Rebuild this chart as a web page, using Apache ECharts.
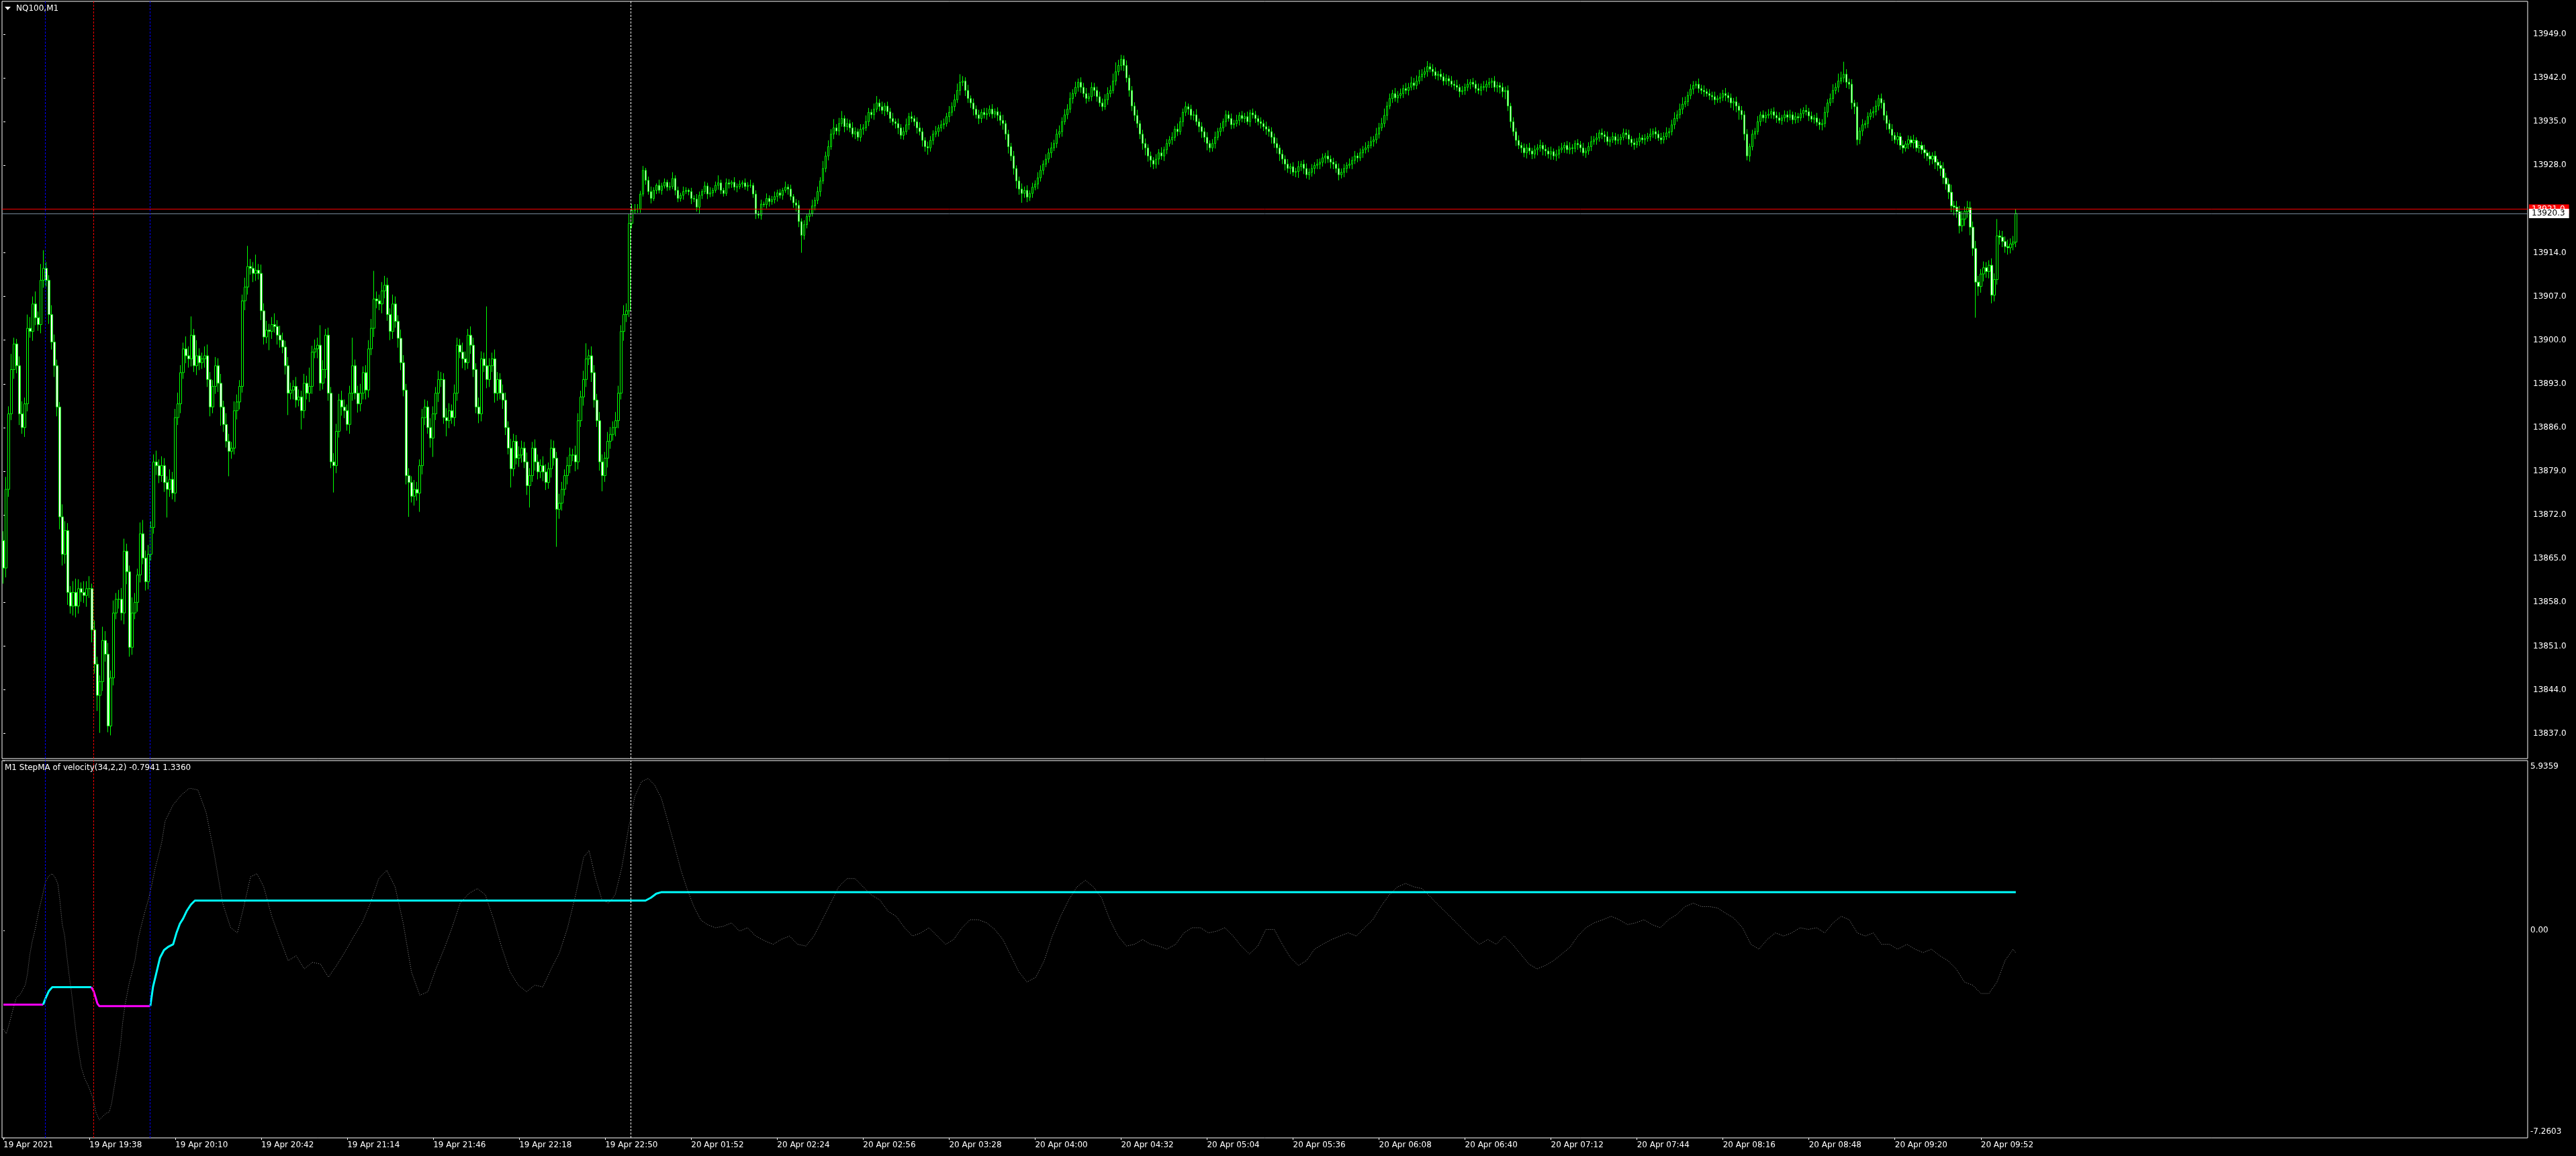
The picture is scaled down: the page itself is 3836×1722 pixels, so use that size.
<!DOCTYPE html>
<html><head><meta charset="utf-8">
<script src="https://cdn.jsdelivr.net/npm/echarts@6/dist/echarts.min.js"></script>
<style>html,body{margin:0;padding:0;background:#000;overflow:hidden}#c{width:3836px;height:1722px}</style>
</head><body><div id="c"></div>
<script>
const symbolTitle = 'NQ100,M1';
const indicatorTitle = 'M1 StepMA of velocity(34,2,2) -0.7941 1.3360';
const tickLabels = ['19 Apr 2021','19 Apr 19:38','19 Apr 20:10','19 Apr 20:42','19 Apr 21:14','19 Apr 21:46','19 Apr 22:18','19 Apr 22:50','20 Apr 01:52','20 Apr 02:24','20 Apr 02:56','20 Apr 03:28','20 Apr 04:00','20 Apr 04:32','20 Apr 05:04','20 Apr 05:36','20 Apr 06:08','20 Apr 06:40','20 Apr 07:12','20 Apr 07:44','20 Apr 08:16','20 Apr 08:48','20 Apr 09:20','20 Apr 09:52'];
const barsPerLabel = 32;
const slotCount = 940;
const priceTicks = [13837,13844,13851,13858,13865,13872,13879,13886,13893,13900,13907,13914,13928,13935,13942,13949];
const priceMin = 13832.98, priceMax = 13954.27;
const indMin = -7.2603, indMax = 5.9359;
const askPrice = 13921.0, bidPrice = 13920.3;
const firstOpen = 13867.9;
const closes = [
13863.5,13876.1,13888.2,13895.3,13899.4,13895.9,13888.2,13886.0,13889.8,13901.9,
13901.4,13905.8,13903.6,13902.5,13909.6,13911.5,13909.6,13904.1,13899.7,13895.9,
13889.3,13871.7,13865.7,13869.5,13859.6,13857.4,13859.6,13857.4,13860.2,13859.6,
13859.1,13860.2,13860.2,13853.6,13848.1,13843.1,13845.3,13851.9,13849.7,13838.2,
13845.9,13856.3,13858.5,13858.5,13856.3,13866.2,13862.9,13850.8,13856.3,13858.0,
13862.4,13869.0,13865.1,13861.3,13865.7,13870.0,13880.5,13879.9,13878.3,13879.9,
13877.2,13876.1,13877.7,13875.5,13887.6,13889.8,13894.8,13898.6,13897.5,13897.0,
13900.8,13895.9,13897.5,13896.4,13897.0,13897.5,13893.7,13889.3,13892.6,13895.9,
13893.1,13889.3,13886.5,13883.8,13882.2,13882.7,13888.7,13890.1,13892.6,13906.3,
13908.5,13911.8,13911.5,13910.7,13911.2,13910.7,13904.7,13900.5,13901.6,13901.4,
13902.5,13902.2,13900.8,13900.0,13898.9,13895.9,13891.5,13892.0,13892.6,13890.4,
13890.9,13888.7,13893.1,13891.5,13892.6,13898.1,13898.6,13899.2,13893.1,13895.3,
13900.8,13891.5,13880.5,13879.9,13885.4,13890.4,13889.3,13888.7,13886.5,13891.5,
13895.9,13891.5,13889.8,13891.5,13894.8,13892.0,13898.6,13901.9,13906.6,13906.3,
13905.8,13907.9,13908.8,13904.1,13901.4,13905.8,13903.0,13900.3,13896.4,13892.0,
13878.3,13877.2,13875.0,13876.1,13875.5,13879.9,13887.6,13889.3,13886.0,13884.3,
13888.2,13891.5,13893.7,13893.7,13887.6,13887.1,13888.7,13887.6,13891.5,13899.2,
13898.1,13897.0,13896.4,13900.8,13899.2,13895.3,13889.3,13888.2,13897.0,13895.9,
13893.7,13895.9,13897.0,13891.5,13893.7,13891.5,13890.4,13886.0,13882.7,13879.4,
13883.8,13881.1,13881.6,13882.7,13880.5,13876.7,13878.3,13882.7,13880.5,13878.9,
13879.9,13878.9,13877.2,13879.4,13882.7,13881.1,13872.9,13873.9,13876.1,13878.3,
13879.9,13881.6,13881.6,13880.5,13887.1,13890.9,13893.7,13897.0,13897.5,13894.8,
13890.4,13887.1,13880.5,13878.3,13881.1,13883.8,13884.9,13886.0,13887.1,13891.5,
13901.4,13904.1,13904.7,13918.7,13920.8,13921.0,13921.0,
13923.4,13927.2,13925.6,13923.8,13922.7,13924.0,13924.8,13924.0,13924.7,13925.3,
13924.5,13924.6,13925.9,13924.0,13922.7,13923.2,13923.8,13924.0,13923.8,13922.7,
13922.6,13921.3,13923.2,13923.8,13924.7,13923.4,13923.6,13924.0,13924.8,13925.2,
13924.0,13923.5,13925.2,13925.0,13925.3,13924.5,13924.6,13925.0,13925.2,13924.6,
13924.8,13924.8,13923.4,13920.2,13920.0,13921.8,13921.7,13922.7,13922.2,13922.5,
13923.0,13923.6,13923.2,13924.0,13924.5,13924.2,13923.0,13922.0,13921.6,13919.0,
13916.8,13918.5,13919.8,13920.3,13921.5,13922.4,13923.8,13925.5,13927.5,13929.5,
13931.0,13933.0,13934.0,13933.5,13934.7,13935.5,13934.2,13934.7,13934.0,13933.0,
13933.4,13932.5,13933.8,13934.0,13935.0,13936.5,13936.1,13937.0,13938.0,13937.4,
13936.8,13937.5,13936.6,13935.5,13935.0,13934.7,13934.0,13932.8,13933.4,13934.5,
13935.8,13935.5,13935.0,13934.0,13933.4,13932.0,13931.0,13930.8,13932.0,13933.0,
13933.4,13934.0,13934.5,13934.7,13935.8,13936.5,13937.4,13938.5,13940.0,13941.3,
13941.5,13940.0,13938.7,13938.0,13937.0,13936.1,13935.5,13936.5,13936.1,13936.3,
13937.0,13936.2,13936.6,13936.0,13935.2,13934.7,13933.0,13931.0,13929.5,13927.5,
13925.5,13924.2,13923.5,13924.0,13922.9,13923.5,13924.5,13925.0,13926.0,13927.2,
13928.2,13929.0,13930.0,13930.8,13931.5,13933.0,13933.4,13935.0,13936.1,13937.0,
13938.7,13939.5,13940.5,13941.3,13940.5,13939.5,13938.7,13939.0,13940.5,13940.0,
13939.0,13938.0,13937.4,13938.5,13939.5,13940.0,13941.5,13943.0,13944.0,13945.0,
13944.0,13942.0,13940.0,13937.5,13936.0,13934.7,13933.0,13931.5,13930.8,13929.5,
13928.8,13928.2,13929.0,13930.0,13929.5,13930.5,13931.5,13932.1,13932.5,13933.8,
13933.4,13935.0,13936.5,13937.4,13937.0,13936.0,13936.1,13935.0,13934.2,13933.4,
13932.5,13931.5,13930.8,13931.5,13932.5,13933.4,13934.0,13935.0,13936.1,13935.5,
13934.5,13934.7,13935.2,13936.0,13935.5,13935.8,13935.0,13936.4,13936.1,13935.5,
13935.0,13934.7,13934.2,13933.8,13933.4,13932.5,13931.5,13930.8,13929.8,13929.0,
13928.2,13927.5,13927.8,13926.9,13927.0,13927.8,13928.2,13927.5,13926.5,13926.9,
13927.5,13928.0,13928.2,13928.5,13929.2,13929.5,13929.0,13928.5,13928.2,13927.5,
13926.5,13926.9,13927.5,13928.0,13928.2,13928.8,13929.5,13929.2,13930.0,13930.5,
13930.8,13931.2,13931.8,13932.1,13933.0,13934.0,13934.7,13936.0,13937.5,13938.7,
13939.5,13938.8,13939.2,13939.5,13940.3,13940.0,13940.5,13941.2,13940.8,13941.5,
13942.2,13942.6,13943.0,13943.8,13943.4,13943.0,13942.4,13942.6,13942.2,13941.5,
13941.9,13941.5,13941.0,13940.8,13940.5,13939.8,13940.0,13940.5,13941.0,13941.3,
13941.0,13940.3,13940.0,13940.6,13940.5,13941.0,13941.3,13941.5,13940.5,13940.8,
13940.5,13939.8,13940.0,13937.5,13935.0,13933.4,13932.0,13931.2,13930.8,13930.0,
13930.8,13930.3,13929.8,13930.5,13930.8,13931.2,13930.6,13930.3,13929.8,13930.2,
13929.5,13929.8,13930.5,13930.8,13931.2,13930.5,13930.8,13930.7,13931.5,13931.3,
13930.8,13930.0,13930.3,13931.0,13931.8,13932.1,13932.4,13933.2,13932.9,13932.6,
13931.8,13932.1,13932.6,13932.0,13932.1,13932.5,13933.2,13932.9,13932.2,13931.6,
13931.3,13931.8,13932.4,13932.1,13932.3,13932.6,13933.0,13933.4,13933.0,13932.4,
13932.1,13932.6,13933.2,13933.4,13934.5,13935.5,13936.1,13937.0,13937.8,13938.2,
13939.2,13940.2,13940.8,13941.0,13940.3,13940.0,13939.8,13939.5,13939.2,13939.0,
13938.5,13938.7,13938.9,13939.5,13939.2,13938.8,13938.0,13938.2,13937.5,13936.8,
13936.1,
13933.0,13929.5,13931.0,13933.0,13933.4,13935.0,13936.1,13935.6,13936.0,13936.2,
13936.6,13936.0,13935.6,13935.2,13935.6,13936.1,13935.7,13936.1,13935.3,13935.8,
13935.6,13936.3,13936.8,13936.6,13935.9,13935.4,13935.6,13934.9,13934.5,13934.7,
13936.5,13938.0,13938.7,13940.0,13940.5,13941.5,13942.0,13942.6,13941.3,13941.0,
13938.0,13937.4,13932.1,13933.5,13934.5,13934.7,13935.8,13936.4,13936.6,13937.5,
13938.7,13938.0,13936.0,13934.7,13933.8,13932.8,13932.1,13932.6,13931.2,13930.8,
13931.4,13932.1,13931.6,13932.0,13930.8,13931.2,
13930.5,13930.0,13929.5,13929.0,13929.5,13928.5,13928.0,13927.5,13926.0,13925.0,
13923.7,13921.5,13921.3,13920.6,13918.3,13919.4,13920.6,13921.2,13918.1,13914.7,
13909.3,13908.6,13910.6,13911.6,13911.0,13912.0,13907.2,13909.7,13916.7,13916.5,
13915.8,13915.0,13914.8,13915.4,13915.7,13920.3
];
const upWick = [
1.5,2.0,1.2,2.5,1.0,0.8,1.5,2.0,1.0,2.2,
1.8,1.2,2.0,1.0,2.6,2.9,1.0,0.8,1.5,1.2,
1.0,0.8,2.0,1.5,1.2,1.0,1.8,2.2,1.5,1.0,
1.8,1.2,2.0,0.8,1.5,1.2,1.0,2.2,1.5,1.8,
1.2,2.0,1.0,1.5,1.8,2.0,1.2,1.0,2.5,1.5,
1.0,1.8,2.2,1.2,1.5,1.0,1.2,1.8,1.0,1.5,
1.2,1.0,1.6,1.2,1.4,1.8,1.2,1.0,2.0,1.5,
3.0,1.0,2.5,1.2,1.0,1.5,1.8,1.2,1.0,1.4,
1.2,1.5,1.0,1.8,1.2,1.0,1.5,1.2,1.0,1.0,
1.5,3.3,1.2,1.0,2.5,1.0,1.4,1.2,1.5,1.0,
1.2,1.8,1.0,1.5,1.2,1.0,1.4,1.2,1.0,1.5,
1.2,1.0,1.5,1.2,3.0,1.0,1.5,1.2,3.2,1.5,
1.0,1.2,1.0,1.4,1.2,1.0,1.5,1.2,1.0,1.2,
4.5,1.0,1.2,1.5,1.0,1.2,1.4,1.5,4.5,1.2,
1.0,1.4,1.5,1.2,1.0,1.5,1.2,1.0,1.4,1.2,
1.0,1.2,1.0,1.5,1.2,1.0,1.4,1.2,1.0,1.5,
1.2,1.0,1.4,1.2,1.0,1.5,1.2,1.0,1.4,1.2,
1.0,1.5,1.2,1.0,1.4,1.2,1.0,1.5,1.2,1.0,
9.5,1.2,1.0,1.5,1.2,1.0,1.4,1.2,1.0,1.5,
1.2,1.0,1.4,1.2,1.0,1.5,1.2,1.0,1.4,1.2,
1.0,1.5,1.2,1.0,1.4,1.2,1.0,1.5,1.2,1.0,
1.4,1.2,1.0,1.5,1.2,1.0,1.4,2.5,1.0,1.5,
1.2,1.0,1.4,1.2,1.0,1.5,1.2,1.0,1.4,1.2,
1.0,1.5,1.2,1.5,1.0,0.8,0.8,
0.5,0.7,0.4,0.6,0.8,0.5,0.3,0.9,0.5,0.6,
0.4,0.7,1.0,0.5,0.6,0.4,0.8,0.5,0.3,0.6,
0.5,0.8,0.6,0.4,0.7,0.5,0.9,0.4,0.6,1.2,
0.5,0.4,0.7,0.6,0.3,0.8,0.5,0.6,0.4,0.7,
0.5,0.9,0.4,0.6,0.5,0.7,0.4,0.8,0.5,0.6,
0.8,0.5,0.6,0.4,0.9,0.5,0.7,0.4,0.6,0.8,
0.5,0.7,0.4,0.6,1.0,0.5,0.8,0.6,1.2,0.7,
1.0,0.8,1.4,0.6,0.9,1.2,0.5,0.8,0.6,0.9,
0.7,0.5,0.8,0.6,1.0,0.7,0.5,0.9,1.1,0.6,
0.8,0.5,0.7,0.6,0.9,0.5,0.8,0.6,0.7,1.0,
0.6,0.8,0.5,0.7,0.9,0.6,0.5,0.8,0.7,0.6,
0.9,0.5,0.7,0.8,0.6,1.0,0.7,0.9,1.1,1.3,
0.8,0.6,0.9,0.5,0.7,0.6,0.8,0.5,0.7,0.9,
0.6,0.8,0.5,0.7,0.6,0.9,0.5,0.7,0.6,0.8,
0.5,0.7,0.9,0.6,0.8,0.5,0.7,0.6,0.9,0.8,
0.6,0.8,0.7,0.9,0.6,0.8,1.0,0.7,0.9,0.8,
1.0,0.7,0.9,0.6,0.8,0.7,0.9,0.6,0.8,0.7,
0.6,0.8,0.7,0.9,1.0,0.8,1.2,1.5,0.9,0.7,
0.6,0.8,0.5,0.7,0.6,0.9,0.5,0.7,0.8,0.6,
0.7,0.5,0.8,0.6,0.9,0.5,0.7,0.6,0.8,0.5,
0.9,0.7,0.6,0.8,0.5,0.7,0.6,0.9,0.5,0.7,
0.6,0.8,0.5,0.7,0.9,0.6,0.8,0.5,0.7,0.6,
0.8,0.6,0.9,0.5,0.7,0.6,0.8,0.5,0.7,0.6,
0.5,0.7,0.6,0.8,0.5,0.7,0.6,0.9,0.5,0.7,
0.6,0.8,0.5,0.7,0.6,0.9,0.5,0.7,0.8,0.6,
0.7,0.5,0.8,0.6,0.7,0.5,0.9,0.6,0.7,0.5,
0.8,0.6,0.7,0.5,0.9,0.6,0.8,0.5,0.7,0.6,
0.9,0.7,0.8,0.6,1.0,0.8,0.9,1.1,0.7,0.8,
0.6,0.9,0.7,0.8,0.6,0.9,0.7,1.0,0.8,0.9,
1.1,0.8,0.7,0.9,0.6,0.8,0.7,0.5,0.8,0.6,
0.7,0.5,0.8,0.6,0.9,0.5,0.7,0.6,0.8,0.5,
0.7,0.6,0.8,0.5,0.9,0.6,0.7,0.5,0.8,0.6,
0.5,0.7,0.6,0.8,0.5,0.7,0.6,0.8,0.5,0.7,
0.6,0.8,0.5,0.7,0.6,0.9,0.5,0.7,0.6,0.8,
0.5,0.7,0.6,0.8,0.5,0.7,0.9,0.6,0.5,0.7,
0.6,0.8,0.5,0.7,0.9,0.6,0.8,0.5,0.7,0.6,
0.8,0.5,0.7,0.6,0.9,0.5,0.7,0.6,0.8,0.5,
0.7,0.6,0.8,0.5,0.7,0.6,0.9,0.5,0.7,0.6,
0.8,0.7,0.9,0.6,0.8,1.0,0.7,0.9,1.1,0.8,
0.6,0.8,0.7,0.5,0.9,0.6,0.8,0.5,0.7,0.6,
0.8,0.5,0.7,0.6,0.9,0.5,0.7,0.6,0.8,0.5,
0.7,0.6,0.8,0.5,0.7,0.6,0.9,0.5,0.7,0.6,
0.8,0.5,0.7,0.6,0.9,0.5,0.7,0.6,0.8,0.5,
0.7,0.6,0.8,0.5,0.9,0.6,0.7,0.5,0.8,0.6,
0.7,0.9,0.6,0.8,1.0,0.7,1.2,1.0,2.0,0.8,
0.6,0.8,0.5,0.7,0.6,0.9,0.5,0.7,0.6,0.8,
0.9,0.6,0.8,0.5,0.7,0.6,0.8,0.5,0.7,0.6,
0.8,0.5,0.7,0.6,0.9,0.5,0.7,0.6,0.8,0.5,
0.7,0.6,0.8,0.5,0.7,1.0,0.8,0.9,1.2,0.8,
1.0,0.9,1.3,0.8,1.1,1.0,0.9,1.2,1.0,0.8,
1.0,0.9,0.8,1.1,1.0,2.7,0.9,1.0,0.8,1.1,
0.9,1.0,0.7
];
const downWick = [
2.5,1.5,1.2,1.0,1.5,1.2,1.8,1.0,1.5,1.2,
1.0,1.5,1.2,1.0,1.4,1.2,1.0,1.5,1.2,1.8,
1.5,2.0,1.8,1.5,2.0,1.2,1.5,1.8,1.2,1.5,
1.2,1.8,1.5,2.0,1.5,2.5,6.0,1.5,1.2,1.0,
1.5,1.2,1.0,1.5,1.2,1.8,2.0,1.5,1.2,1.0,
1.5,1.2,1.0,1.4,1.2,1.0,1.0,1.5,1.2,1.0,
1.5,4.5,1.2,1.0,1.4,1.2,1.5,1.0,1.2,1.4,
1.2,1.0,1.5,1.2,1.0,1.4,1.2,1.5,1.0,1.2,
1.4,3.0,1.2,1.0,4.0,1.2,1.0,1.4,1.2,1.0,
1.5,1.2,1.0,1.4,1.2,1.0,1.5,1.2,1.0,3.0,
1.2,1.0,1.5,1.2,1.0,1.4,3.5,1.0,1.5,1.2,
1.0,3.0,1.2,1.0,1.4,1.2,1.0,1.5,1.2,1.0,
1.4,1.2,1.0,4.3,1.2,1.0,1.4,1.2,1.0,1.5,
1.2,1.0,1.4,1.2,1.0,1.5,1.2,1.0,1.4,1.2,
1.0,1.5,1.2,1.0,1.4,1.2,1.0,1.5,1.2,1.0,
1.4,5.5,1.0,1.5,1.2,3.0,1.4,1.2,1.0,1.5,
3.0,1.0,1.4,1.2,1.0,2.5,1.2,1.0,1.4,1.2,
1.0,1.5,1.2,1.0,1.4,1.2,1.0,1.5,1.2,1.0,
1.4,1.2,1.0,1.5,1.2,1.0,1.4,1.2,1.0,3.0,
1.2,1.0,1.4,1.2,1.0,1.5,3.5,1.0,1.4,1.2,
1.0,1.5,1.2,1.0,1.4,1.2,6.0,1.5,1.2,1.0,
1.4,1.2,1.0,1.5,1.2,1.0,1.4,1.2,1.0,1.5,
1.2,1.0,1.4,2.5,1.0,1.5,1.2,1.0,1.4,1.2,
1.0,1.5,1.2,1.0,0.8,0.6,0.6,
0.6,0.4,0.7,0.5,0.8,0.4,0.6,0.5,0.7,0.4,
0.6,0.5,0.4,0.8,0.6,0.5,0.7,0.4,0.6,0.9,
0.5,0.7,1.0,0.6,0.4,0.8,0.5,0.6,0.4,0.7,
0.6,0.5,0.4,0.7,0.6,0.5,0.8,0.4,0.6,0.5,
0.7,0.4,0.6,0.8,0.5,0.7,0.4,0.6,0.8,0.5,
0.6,0.8,0.5,0.7,0.4,0.9,0.6,0.8,1.0,0.9,
2.8,0.7,0.6,0.8,0.5,0.7,0.6,0.8,0.5,0.6,
0.7,0.5,0.8,0.6,0.7,0.5,0.9,0.6,0.7,0.5,
0.8,0.6,0.7,0.9,0.5,0.7,0.6,0.8,0.5,0.7,
0.6,0.9,0.5,0.7,0.6,0.8,1.0,0.6,0.7,0.5,
0.8,0.6,0.7,0.9,0.6,1.0,0.8,1.1,0.6,0.7,
0.5,0.8,0.6,0.7,0.5,0.9,0.6,0.7,0.5,0.8,
0.6,0.9,0.7,0.8,1.0,0.6,0.9,0.7,0.6,0.8,
0.5,0.7,0.6,0.9,0.8,1.0,0.9,1.1,0.8,1.0,
1.2,0.9,1.5,0.7,0.8,0.6,0.7,0.5,0.8,0.6,
0.7,0.5,0.6,0.8,0.5,0.7,0.6,0.8,0.5,0.7,
0.6,0.8,0.5,0.7,0.9,0.6,0.8,0.5,0.7,0.9,
0.8,0.6,0.7,0.5,0.8,0.6,0.5,0.7,0.6,0.8,
0.9,0.7,1.0,0.8,0.9,0.7,0.8,1.0,1.2,0.9,
1.1,0.8,0.7,0.9,0.6,0.8,0.7,0.5,0.8,0.6,
0.7,0.5,0.8,0.6,0.9,0.7,0.8,0.6,0.9,1.0,
0.8,1.1,0.7,0.6,0.8,0.5,0.7,0.6,0.8,0.5,
0.7,0.6,0.5,0.8,0.6,0.7,0.5,0.8,0.6,0.7,
0.6,0.8,0.7,0.9,0.8,1.0,0.7,0.9,1.1,0.8,
1.0,0.7,0.9,0.6,0.8,1.0,0.7,0.9,0.6,0.8,
0.7,0.9,0.6,0.8,0.7,0.9,0.6,1.0,0.8,0.7,
0.9,0.6,0.8,0.7,0.5,0.8,0.6,0.7,0.5,0.8,
0.6,0.7,0.5,0.8,0.6,0.7,0.5,0.6,0.8,0.5,
0.7,0.6,0.8,0.5,0.7,0.6,0.8,0.5,0.7,0.6,
0.5,0.7,0.6,0.8,0.5,0.7,0.6,0.8,0.5,0.7,
0.6,0.8,0.5,0.7,0.6,0.9,0.5,0.7,0.6,0.8,
0.5,0.7,0.6,0.8,0.5,0.7,0.6,0.9,0.7,0.8,
1.0,0.9,1.2,0.8,1.0,0.7,0.9,0.6,0.8,0.7,
0.9,0.6,0.8,0.7,0.9,0.6,1.0,0.8,0.7,0.9,
0.6,0.8,0.7,0.5,0.8,0.6,0.7,0.9,0.6,0.8,
0.7,0.5,0.8,0.6,0.7,0.5,0.8,0.6,0.7,0.9,
0.6,0.8,0.5,0.7,0.6,0.8,0.5,0.7,0.9,0.6,
0.8,0.5,0.7,0.6,0.8,0.5,0.7,0.6,0.8,0.5,
0.7,0.6,0.5,0.8,0.6,0.7,0.5,0.6,0.8,0.5,
0.7,0.6,0.8,0.5,0.7,0.6,0.8,0.5,0.7,0.6,
0.8,0.5,0.7,0.6,0.9,0.7,0.8,1.2,1.0,1.5,
0.8,1.0,0.7,0.9,0.6,0.8,0.5,0.7,0.6,0.8,
0.5,0.7,0.6,0.8,0.5,0.7,0.6,0.8,0.5,0.7,
0.6,0.8,0.5,0.7,0.6,0.8,0.5,0.7,0.6,0.8,
0.9,0.6,0.8,0.5,0.7,0.6,0.8,0.5,0.7,0.9,
0.8,1.0,1.2,0.9,0.7,0.8,0.6,0.7,0.5,0.8,
0.6,0.7,0.9,0.8,1.0,0.7,0.9,0.6,0.8,0.7,
0.9,0.6,0.8,0.7,0.9,0.6,0.8,0.7,0.9,0.8,
1.0,0.8,1.1,0.9,1.2,1.0,0.9,1.1,1.0,1.3,
1.0,1.2,0.9,1.1,1.0,1.3,1.2,5.7,1.5,1.0,
1.2,1.0,1.1,1.3,1.0,0.8,1.2,0.9,1.0,1.1,
0.9,1.0,0.8
];
const velocity = [[0,-3.46],[1.1,-3.62],[2.3,-3.23],[3.6,-2.76],[4.8,-2.37],[6.5,-2.21],[8.2,-1.90],[9,-1.51],[9.8,-0.88],[10.7,-0.41],[11.9,0.06],[13.2,0.69],[14.4,1.15],[15.7,1.70],[16.9,1.90],[18.2,1.98],[19.4,1.82],[20.3,1.62],[21.1,1.00],[21.9,0.22],[22.8,-0.18],[23.6,-0.88],[24.4,-1.51],[25.3,-2.13],[26.1,-2.76],[26.9,-3.46],[27.8,-4.09],[29,-4.79],[30.3,-5.19],[31.5,-5.42],[32.8,-5.73],[33.6,-5.97],[34.4,-6.36],[35.7,-6.63],[36.9,-6.52],[38.2,-6.40],[39.4,-6.36],[40.3,-6.05],[41.1,-5.58],[41.9,-5.11],[42.8,-4.56],[43.6,-4.01],[44.4,-3.23],[45.3,-2.60],[46.1,-2.21],[46.9,-1.82],[47.8,-1.51],[49,-1.04],[50.3,-0.25],[51.5,0.22],[52.8,0.69],[54,1.08],[55.3,1.62],[56.5,2.17],[57.8,2.64],[59,3.11],[60.2,3.82],[63.2,4.39],[66.3,4.74],[69.3,4.97],[72.4,4.91],[75.5,4.11],[78.5,2.67],[81.6,0.95],[84.6,0.09],[87.1,-0.09],[89.5,0.83],[92,1.87],[94.4,1.98],[96.9,1.52],[99.9,0.49],[103,-0.32],[106,-1.06],[109,-0.89],[112,-1.35],[115,-1.12],[118,-1.18],[121,-1.64],[124,-1.23],[127,-0.78],[130.5,-0.20],[133.5,0.26],[136.6,0.95],[139.7,1.81],[142.7,2.10],[145.8,1.52],[148.8,0.26],[151.9,-1.46],[155,-2.27],[158,-2.15],[161,-1.35],[164,-0.66],[167,0.09],[170,0.95],[173.3,1.29],[176.4,1.46],[179.4,1.24],[182.5,0.37],[185.5,-0.60],[188.6,-1.46],[191.7,-1.92],[194.7,-2.15],[197.8,-1.92],[200.8,-1.98],[203.9,-1.35],[207,-0.78],[210,0.09],[213,1.24],[216,2.56],[218,2.79],[220.4,1.81],[222.8,1.06],[225.3,0.95],[227.7,1.24],[230.2,2.21],[232.6,3.53],[235,4.68],[237.5,5.20],[240,5.31],[242.4,5.08],[244.9,4.62],[247.3,3.82],[249.8,2.96],[252.2,2.10],[254.6,1.41],[257,0.83],[259.5,0.37],[262,0.20],[265,0.09],[268,0.14],[271,0.26],[274,-0.03],[277,0.09],[280,-0.20],[283.4,-0.37],[286.5,-0.49],[289.5,-0.32],[292.6,-0.20],[295.6,-0.49],[298.7,-0.55],[301.7,-0.20],[304.8,0.37],[307.9,0.95],[310.9,1.52],[314,1.81],[317,1.81],[320,1.52],[323,1.24],[326.2,1.06],[329.3,0.66],[332.3,0.49],[335.4,0.09],[338.4,-0.20],[341.5,-0.09],[344.5,0.09],[347.6,-0.20],[350.7,-0.49],[353.7,-0.32],[356.8,0.09],[359.8,0.37],[362.9,0.37],[366,0.26],[369,0.03],[372,-0.32],[375,-0.89],[378,-1.46],[381,-1.81],[384.3,-1.64],[387.4,-1.06],[390.4,-0.20],[393.5,0.49],[396.5,1.06],[399.6,1.52],[402.7,1.75],[405.7,1.52],[408.8,1.12],[411.8,0.37],[414.9,-0.20],[418,-0.55],[421,-0.49],[424,-0.32],[427,-0.49],[430,-0.55],[433,-0.66],[436.3,-0.49],[439.4,-0.09],[442.4,0.09],[445.5,0.09],[448.5,-0.09],[451.6,-0.03],[454.6,0.09],[457.7,-0.20],[460.7,-0.55],[463.8,-0.83],[466.9,-0.55],[469.9,0.03],[473,0.03],[476,-0.49],[479,-0.95],[482,-1.23],[485,-1.06],[488,-0.66],[491,-0.49],[494.4,-0.32],[497.5,-0.20],[500.5,-0.09],[503.6,-0.20],[506.6,0.09],[509.7,0.37],[512.7,0.83],[515.8,1.24],[518.9,1.52],[521.9,1.64],[525,1.52],[528,1.46],[531,1.18],[534,0.89],[537.2,0.60],[540.3,0.31],[543.3,0.03],[546.4,-0.26],[549.4,-0.49],[552.5,-0.32],[555.6,-0.49],[558.6,-0.20],[561.7,-0.49],[564.7,-0.83],[567.8,-1.18],[570.8,-1.35],[573.9,-1.23],[577,-1.06],[580,-0.83],[583,-0.60],[586,-0.20],[589,0.09],[592,0.26],[595.3,0.37],[598.4,0.49],[601.4,0.37],[604.5,0.20],[607.5,0.26],[610.6,0.37],[613.6,0.20],[616.7,0.09],[619.7,0.37],[622.8,0.55],[625.9,0.83],[629,0.95],[632,0.83],[635,0.83],[638,0.78],[641,0.60],[644,0.43],[647.3,0.09],[650.4,-0.49],[653.4,-0.66],[656.5,-0.32],[659.5,-0.09],[662.6,-0.20],[665.6,-0.09],[668.7,0.09],[671.8,0.03],[674.8,0.09],[677.9,-0.09],[681,0.26],[684,0.49],[687,0.37],[690,-0.09],[693,-0.20],[696,-0.09],[699,-0.49],[702,-0.49],[705,-0.66],[708.5,-0.49],[711.5,-0.66],[714.5,-0.78],[717.6,-0.66],[720.7,-0.89],[723.7,-1.06],[726.8,-1.35],[729.9,-1.81],[733,-1.92],[736,-2.21],[739,-2.21],[742,-1.81],[745,-1.06],[748,-0.66],[749,-0.79]];
const stepDownA = [[0,-2.60],[14.8,-2.60]];
const stepUpA = [[14.8,-2.60],[15.7,-2.38],[16.9,-2.13],[18.2,-1.99],[32.75,-1.99]];
const stepDownB = [[32.75,-1.99],[33.6,-2.13],[34.4,-2.37],[35,-2.56],[35.7,-2.65],[54.7,-2.65]];
const stepUpB = [[54.7,-2.65],[55.7,-1.98],[56.9,-1.51],[58.3,-0.96],[59.8,-0.69],[61.5,-0.57],[63.2,-0.49],[64.4,-0.10],[65.7,0.23],[66.9,0.41],[68.2,0.67],[69.8,0.90],[71.3,1.04],[239,1.04],[241,1.14],[243,1.28],[245,1.336],[749,1.336]];
const signalLines = [15.5, 33.5, 54.5];
const signalColors = ['#0000ff', '#ff0000', '#0000ff'];
const separatorIdx = 233.5;

const FONT = 'DejaVu Sans';
const categories = Array.from({length: slotCount}, (_, i) => String(i));
const candles = closes.map((c, i) => {
  const o = i === 0 ? firstOpen : closes[i - 1];
  const lo = Math.min(o, c) - (downWick[i] || 0);
  const hi = Math.max(o, c) + (upWick[i] || 0);
  return [o, c, lo, hi];
});
const labelIdx = tickLabels.map((_, k) => k * barsPerLabel);
const vLines = signalLines.map((x, k) => ({xAxis: x, lineStyle: {color: signalColors[k], type: [3, 2], width: 1}}))
  .concat([{xAxis: separatorIdx, lineStyle: {color: '#ffffff', type: [3, 2], width: 1}}]);
const vMark = {symbol: ['none', 'none'], silent: true, label: {show: false}, animation: false, data: vLines};

const chart = echarts.init(document.getElementById('c'), null, {renderer: 'canvas'});
const stepSeries = (data, color) => ({type: 'line', xAxisIndex: 2, yAxisIndex: 1, data, symbol: 'none', z: 4,
  lineStyle: {color, width: 3}, silent: true});
chart.setOption({
  backgroundColor: '#000000',
  animation: false,
  title: [
    {text: symbolTitle, left: 24, top: 7, padding: 0, textStyle: {color: '#ffffff', fontSize: 12, fontWeight: 'normal', fontFamily: FONT}},
    {text: indicatorTitle, left: 7, top: 1138, padding: 0, textStyle: {color: '#ffffff', fontSize: 12, fontWeight: 'normal', fontFamily: FONT}}
  ],
  graphic: [{type: 'polygon', shape: {points: [[7, 10], [16, 10], [11.5, 15]]}, style: {fill: '#ffffff'}}],
  grid: [
    {left: 3, top: 2, width: 3761, height: 1128, show: true, borderColor: '#ffffff', borderWidth: 1, backgroundColor: 'transparent'},
    {left: 3, top: 1133, width: 3761, height: 562, show: true, borderColor: '#ffffff', borderWidth: 1, backgroundColor: 'transparent'}
  ],
  xAxis: [
    {type: 'category', gridIndex: 0, data: categories, boundaryGap: true, show: false},
    {type: 'value', gridIndex: 0, min: -0.5, max: slotCount - 0.5, show: false},
    {type: 'value', gridIndex: 1, min: -0.5, max: slotCount - 0.5, position: 'bottom', splitLine: {show: false},
      axisLine: {show: false, onZero: false},
      axisTick: {show: true, customValues: labelIdx, length: 3, lineStyle: {color: '#ffffff'}},
      axisLabel: {show: true, customValues: labelIdx, formatter: v => tickLabels[Math.round(v / barsPerLabel)] || '',
        align: 'left', color: '#ffffff', fontFamily: FONT, fontSize: 12, margin: 5}}
  ],
  yAxis: [
    {type: 'value', gridIndex: 0, position: 'right', min: priceMin, max: priceMax, scale: true,
      splitLine: {show: false}, axisLine: {show: false},
      axisTick: {show: true, customValues: priceTicks, length: 3, lineStyle: {color: '#ffffff'}},
      axisLabel: {show: true, customValues: priceTicks, formatter: v => Number(v).toFixed(1), color: '#ffffff', fontFamily: FONT, fontSize: 12, margin: 8}},
    {type: 'value', gridIndex: 1, position: 'right', min: indMin, max: indMax,
      splitLine: {show: false}, axisLine: {show: false},
      axisTick: {show: true, customValues: [indMin, 0, indMax], length: 2, lineStyle: {color: '#ffffff'}},
      axisLabel: {show: true, customValues: [indMin, 0, indMax], color: '#ffffff', fontFamily: FONT, fontSize: 12, margin: 4,
        formatter: v => v === 0 ? '0.00' : (v > 0 ? '{t|' + indMax.toFixed(4) + '}' : '{b|' + indMin.toFixed(4) + '}'),
        rich: {t: {padding: [18, 0, 0, 0], color: '#ffffff', fontFamily: FONT, fontSize: 12},
               b: {padding: [0, 0, 18, 0], color: '#ffffff', fontFamily: FONT, fontSize: 12}}}}
  ],
  series: [
    {type: 'candlestick', xAxisIndex: 0, yAxisIndex: 0, data: candles, barWidth: 3, large: false, progressive: 0,
      itemStyle: {color: '#000000', color0: '#ffffff', borderColor: '#00ff00', borderColor0: '#00ff00', borderWidth: 1},
      markLine: {symbol: ['none', 'none'], silent: true, animation: false,
        data: [
          {yAxis: askPrice, lineStyle: {color: '#ff0000', type: 'solid', width: 1},
            label: {show: true, position: 'end', distance: 2, formatter: askPrice.toFixed(1), color: '#ffffff', backgroundColor: '#ff0000', padding: [1, 6, 1, 4], fontFamily: FONT, fontSize: 12}},
          {yAxis: bidPrice, lineStyle: {color: '#778899', type: 'solid', width: 1},
            label: {show: true, position: 'end', distance: 2, formatter: bidPrice.toFixed(1), color: '#000000', backgroundColor: '#ffffff', padding: [1, 6, 1, 4], fontFamily: FONT, fontSize: 12}}
        ]}},
    {type: 'line', xAxisIndex: 1, yAxisIndex: 0, data: [], symbol: 'none', markLine: vMark},
    {type: 'line', xAxisIndex: 2, yAxisIndex: 1, data: velocity, symbol: 'none', z: 3, silent: true,
      lineStyle: {color: '#8c8c8c', width: 1, type: [1, 2]}, markLine: vMark},
    stepSeries(stepDownA, '#ff00ff'),
    stepSeries(stepUpA, '#00ffff'),
    stepSeries(stepDownB, '#ff00ff'),
    stepSeries(stepUpB, '#00ffff')
  ]
});
</script></body></html>
